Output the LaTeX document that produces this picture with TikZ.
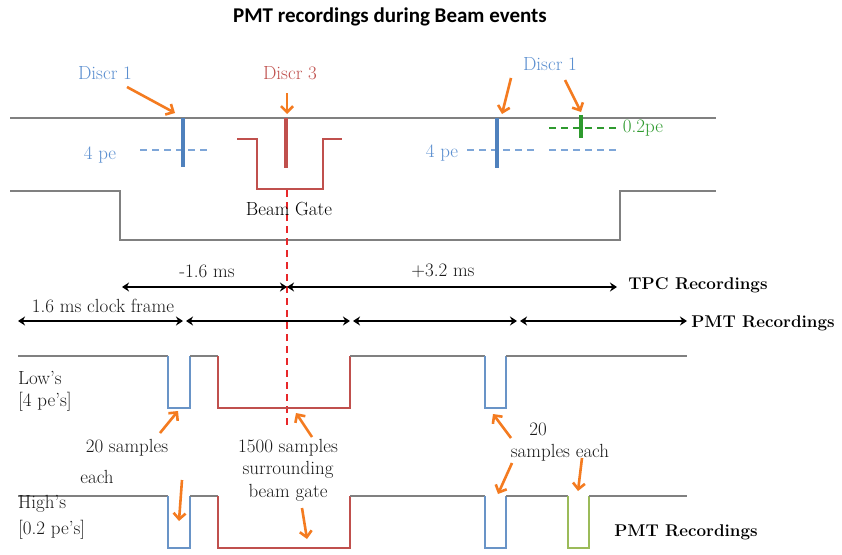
\documentclass[tikz,border=0pt]{standalone}
\usepackage{fontspec}
\newfontfamily\titlefont{Carlito}
\usetikzlibrary{arrows.meta}
\definecolor{wgray}{HTML}{808080}
\definecolor{wblue}{HTML}{4F81BD}
\definecolor{lblue}{HTML}{7EA6D8}
\definecolor{tblue}{HTML}{5B8FD0}
\definecolor{wred}{HTML}{C0504D}
\definecolor{vred}{HTML}{E8272A}
\definecolor{wgreen}{HTML}{9BBB59}
\definecolor{dgreen}{HTML}{2E9A2E}
\definecolor{worange}{HTML}{F47B20}
\definecolor{txt}{HTML}{1A1A1A}
\tikzset{
  wave/.style={draw=wgray,line width=2pt},
  bluew/.style={draw=wblue!85,line width=2pt},
  redw/.style={draw=wred,line width=2pt},
  greenw/.style={draw=wgreen,line width=2pt},
  bar/.style={line width=4.5pt},
  thr/.style={line width=2.2pt,dash pattern=on 7pt off 5pt},
  callout/.style={draw=worange,line width=2.6pt,-{Straight Barb[length=6pt,width=12pt]}},
  span/.style={draw=black,line width=2pt,{Stealth[length=7pt,width=9pt]}-{Stealth[length=7pt,width=9pt]}},
  lbl/.style={font=\fontsize{19}{23}\selectfont,text=txt,inner sep=0pt},
  blbl/.style={font=\fontsize{17}{21}\selectfont\bfseries,text=black,inner sep=0pt},
}
\begin{document}
\begin{tikzpicture}[x=1pt,y=-1pt]
\useasboundingbox[fill=white] (0,0) rectangle (842,554);

% title
\node[inner sep=0pt,font=\titlefont\fontsize{21}{25}\selectfont\bfseries] (title) at (390,17) {PMT recordings during Beam events};

% top signal line and discriminator pulses
\draw[wave] (10,118) -- (716,118);
\draw[thr,lblue] (140,150) -- (207,150);
\draw[bar,wblue] (183,118) -- (183,167);
\draw[bar,wred] (286,118) -- (286,168);
\draw[redw] (237,139) -- (257,139) -- (257,189) -- (323,189) -- (323,139) -- (342,139);
\draw[thr,lblue] (467,150) -- (535,150);
\draw[thr,lblue] (549,150) -- (617,150);
\draw[bar,wblue] (497,118) -- (497,168);
\draw[thr,dgreen] (549,128) -- (617,128);
\draw[bar,dgreen] (581,115) -- (581,138);

% clock frame gate
\draw[wave] (10,191) -- (120,191) -- (120,240) -- (620,240) -- (620,191) -- (716,191);

% beam time marker
\draw[vred,line width=2pt,dash pattern=on 7pt off 5pt] (287,190) -- (287,425);

% labels top
\node[lbl,text=tblue] (d1a) at (105,73) {Discr 1};
\node[lbl,text=wred] (d3) at (290,73) {Discr 3};
\node[lbl,text=tblue] (d1b) at (550,64) {Discr 1};
\node[lbl,text=tblue] (pe4a) at (100,155) {4 pe};
\node[lbl,text=tblue] (pe4b) at (442,153) {4 pe};
\node[lbl,text=dgreen] (pe02) at (643,128) {0.2pe};
\node[lbl,text=black] (bg) at (289,209) {Beam Gate};

\coordinate (a1s) at (127,87);  \coordinate (a1e) at (175,113);
\coordinate (a2s) at (287,93);  \coordinate (a2e) at (287,114);
\coordinate (a3s) at (511,78);  \coordinate (a3e) at (502,114);
\coordinate (a4s) at (565,80);  \coordinate (a4e) at (581,112);
\draw[callout] (a1s) -- (a1e);
\draw[callout] (a2s) -- (a2e);
\draw[callout] (a3s) -- (a3e);
\draw[callout] (a4s) -- (a4e);

% time spans
\coordinate (t0) at (122,287); \coordinate (t1) at (287,287); \coordinate (t2) at (617,287);
\draw[span] (t0) -- (t1);
\draw[span] (t1) -- (t2);
\node[lbl] (m16) at (207,271) {-1.6 ms};
\node[lbl] (p32) at (443,271) {+3.2 ms};
\node[blbl] (tpc) at (698,285) {TPC Recordings};

\coordinate (p0) at (18,321); \coordinate (p1) at (183,321);
\coordinate (p2) at (186,321); \coordinate (p3) at (350,321);
\coordinate (p4) at (353,321); \coordinate (p5) at (517,321);
\coordinate (p6) at (520,321); \coordinate (p7) at (687,321);
\draw[span] (p0) -- (p1);
\draw[span] (p2) -- (p3);
\draw[span] (p4) -- (p5);
\draw[span] (p6) -- (p7);
\node[lbl] (clk) at (103,306) {1.6 ms clock frame};
\node[blbl] (pmt1) at (763,323) {PMT Recordings};

% Low's waveform
\draw[wave] (18,356) -- (168,356);
\draw[bluew] (168,356) -- (168,408) -- (190,408) -- (190,356);
\draw[wave] (190,356) -- (218,356);
\draw[redw] (218,356) -- (218,408) -- (350,408) -- (350,356);
\draw[wave] (350,356) -- (485,356);
\draw[bluew] (485,356) -- (485,408) -- (506,408) -- (506,356);
\draw[wave] (506,356) -- (687,356);
\node[lbl,anchor=west] (low) at (18,378) {Low’s};
\node[lbl,anchor=west] (low2) at (18,402) {[4 pe’s]};

% High's waveform
\draw[wave] (18,496) -- (168,496);
\draw[bluew] (168,496) -- (168,548) -- (190,548) -- (190,496);
\draw[wave] (190,496) -- (218,496);
\draw[redw] (218,496) -- (218,548) -- (350,548) -- (350,496);
\draw[wave] (350,496) -- (485,496);
\draw[bluew] (485,496) -- (485,548) -- (506,548) -- (506,496);
\draw[wave] (506,496) -- (568,496);
\draw[greenw] (568,496) -- (568,548) -- (589,548) -- (589,496);
\draw[wave] (589,496) -- (687,496);
\node[lbl,anchor=west] (high) at (18,504) {High’s};
\node[lbl,anchor=west] (high2) at (18,530) {[0.2 pe’s]};

% sample annotations
\node[lbl] (s20a) at (127,448) {20 samples};
\node[lbl] (eacha) at (97,477) {each};
\node[lbl,align=center,font=\fontsize{19}{22.5}\selectfont] (s1500) at (288,470) {1500 samples\\surrounding\\beam gate};
\node[lbl] (s20b) at (538,429) {20};
\node[lbl] (eachb) at (560,453) {samples each};
\node[blbl] (pmt2) at (686,532) {PMT Recordings};

\coordinate (b1s) at (160,433); \coordinate (b1e) at (178,411);
\coordinate (b2s) at (182,480); \coordinate (b2e) at (179,521);
\coordinate (b3s) at (312,437); \coordinate (b3e) at (296,413);
\coordinate (b4s) at (302,508); \coordinate (b4e) at (307,539);
\coordinate (b5s) at (511,438); \coordinate (b5e) at (493,414);
\coordinate (b6s) at (512,463); \coordinate (b6e) at (498,494);
\coordinate (b7s) at (582,458); \coordinate (b7e) at (578,491);
\draw[callout] (b1s) -- (b1e);
\draw[callout] (b2s) -- (b2e);
\draw[callout] (b3s) -- (b3e);
\draw[callout] (b4s) -- (b4e);
\draw[callout] (b5s) -- (b5e);
\draw[callout] (b6s) -- (b6e);
\draw[callout] (b7s) -- (b7e);
\end{tikzpicture}
\end{document}
